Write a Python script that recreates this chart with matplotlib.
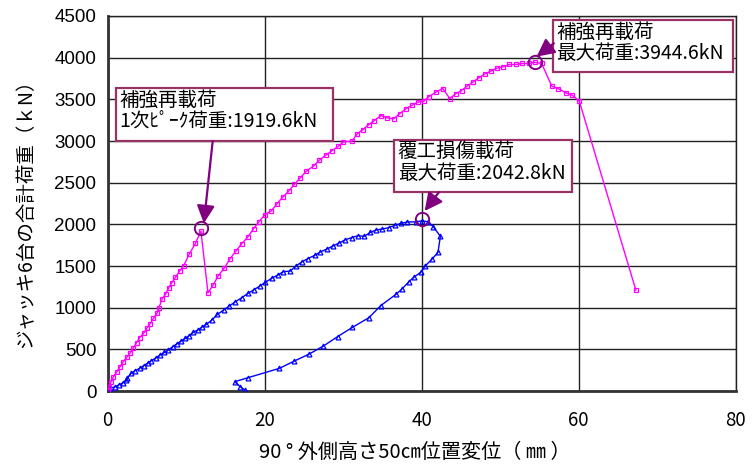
import matplotlib
matplotlib.use("Agg")
import matplotlib.pyplot as plt
from matplotlib.patches import Rectangle

# ---------------- data ----------------
mag_x = [0.0, 0.05, 0.25, 0.45, 0.75, 1.2, 1.6, 2.0, 2.45, 2.9, 3.3, 3.7, 4.1, 4.6,
         5.0, 5.4, 5.85, 6.3, 6.55, 6.95, 7.4, 7.8, 8.2, 8.65, 9.2, 9.7, 10.4, 11.2,
         11.9, 12.8, 13.5, 14.1, 14.9, 15.6, 16.35, 17.1, 17.9, 18.6, 19.3, 20.05,
         20.85, 21.6, 22.3, 23.1, 23.8, 24.55, 25.3, 26.25, 27.0, 27.8, 28.6, 29.4,
         30.05, 31.15, 31.8, 32.55, 33.3, 34.0, 34.85, 35.6, 36.45, 37.2, 38.0, 38.8,
         39.5, 40.3, 40.9, 41.9, 42.7, 43.6, 44.4, 45.1, 45.8, 46.6, 47.3, 48.1, 48.8,
         49.6, 50.4, 51.2, 52.0, 52.8, 53.7, 54.4, 55.3, 56.6, 57.4, 58.4, 59.2, 60.1,
         67.3]
mag_y = [0, 12, 52, 112, 172, 232, 292, 352, 404, 460, 520, 580, 640, 692,
         752, 804, 872, 932, 1000, 1104, 1164, 1240, 1300, 1364, 1440, 1504, 1640, 1772,
         1919.6, 1176, 1278, 1382, 1478, 1586, 1679, 1767, 1851, 1947, 2032, 2116,
         2160, 2248, 2324, 2400, 2480, 2556, 2636, 2700, 2772, 2828, 2884, 2936,
         2990, 2998, 3086, 3138, 3198, 3246, 3306, 3278, 3266, 3326, 3386, 3430,
         3466, 3478, 3530, 3590, 3630, 3510, 3570, 3606, 3658, 3710, 3758, 3806, 3838,
         3874, 3890, 3918, 3918, 3930, 3930, 3944.6, 3930, 3658, 3630, 3578, 3550, 3478,
         1212]

blue_x = [0.0, 0.3, 1.0, 1.4, 2.0, 2.4, 2.5, 3.0, 3.5, 4.1, 4.6, 5.1, 5.6, 6.2, 6.7,
          7.25, 7.75, 8.3, 8.8, 9.4, 9.9, 10.4, 10.9, 11.5, 12.0, 12.6, 13.3, 14.0,
          14.8, 15.5, 16.3, 17.1, 17.9, 18.6, 19.4, 20.1, 20.9, 21.7, 22.4, 23.3, 24.0,
          24.8, 25.5, 26.4, 27.1, 27.95, 28.7, 29.5, 30.3, 31.1, 31.9, 32.7, 33.5, 34.2,
          35.0, 35.8, 36.6, 37.4, 38.2, 39.3, 40.1, 40.8, 41.5, 42.4, 42.1, 41.35, 40.5,
          39.9, 39.0, 38.4, 37.5, 36.8, 34.8, 33.3, 31.2, 29.3, 27.5, 25.7, 23.8, 21.9,
          17.9, 16.2, 16.9, 17.5]
blue_y = [0, 32, 52, 72, 100, 132, 152, 212, 244, 272, 304, 332, 364, 400, 432,
          464, 492, 532, 564, 600, 632, 664, 704, 732, 764, 800, 852, 920,
          972, 1020, 1072, 1120, 1172, 1212, 1260, 1304, 1352, 1392, 1432, 1440, 1500,
          1552, 1588, 1628, 1668, 1704, 1740, 1776, 1816, 1840, 1864, 1856, 1904, 1932,
          1944, 1960, 1988, 2012, 2028, 2030, 2042.8, 2030, 1972, 1856, 1664, 1584, 1504,
          1424, 1364, 1312, 1224, 1164, 1024, 880, 764, 652, 540, 444, 360, 272,
          160, 112, 52, 12]

x_ticks = [0, 20, 40, 60, 80]
y_ticks = [0, 500, 1000, 1500, 2000, 2500, 3000, 3500, 4000, 4500]

ann_texts = ["補強再載荷\n1次ﾋﾟｰｸ荷重:1919.6kN",
             "覆工損傷載荷\n最大荷重:2042.8kN",
             "補強再載荷\n最大荷重:3944.6kN"]

xlabel = "90 ° 外側高さ50㎝位置変位（ ㎜ ）"
ylabel = "ジャッキ6台の合計荷重（ｋN）"

# ---------------- figure ----------------
CJK = ["Noto Sans CJK JP", "DejaVu Sans"]
fig = plt.figure(figsize=(7.55, 4.65), dpi=100)
ax = fig.add_axes([0.1424, 0.1591, 0.8318, 0.8065])

ax.set_xlim(0, 80)
ax.set_ylim(0, 4500)
ax.set_xticks(x_ticks)
ax.set_yticks(y_ticks)
ax.grid(True, color="#222222", linewidth=1.0)
ax.set_axisbelow(True)
ax.tick_params(axis="y", length=0, pad=8)
ax.tick_params(axis="x", length=0, pad=14)
for lab in ax.get_yticklabels():
    lab.set_fontfamily("Liberation Sans")
    lab.set_fontsize(13.5)
for lab in ax.get_xticklabels():
    lab.set_fontfamily(CJK)
    lab.set_fontsize(13.5)

for s in ["left", "bottom"]:
    ax.spines[s].set_linewidth(2.0)
    ax.spines[s].set_color("#333333")
for s in ["top", "right"]:
    ax.spines[s].set_linewidth(1.0)
    ax.spines[s].set_color("#222222")

ax.plot(blue_x, blue_y, color="#0000FF", lw=1.0, marker="^", ms=3.5,
        mfc="none", mec="#0000FF", mew=0.9, zorder=3)
ax.plot(mag_x, mag_y, color="#FF00FF", lw=1.0, marker="s", ms=3.3,
        mfc="none", mec="#FF00FF", mew=0.9, zorder=4)

ax.set_xlabel(xlabel, fontfamily=CJK, fontsize=14.5)
ax.set_ylabel(ylabel, fontfamily=CJK, fontsize=14)
ax.xaxis.set_label_coords(0.49, -0.165)
ax.xaxis.label.set_va("center")
ax.yaxis.set_label_coords(-0.131, 0.485)
ax.yaxis.label.set_va("center")

# ---------------- annotations ----------------
purple = "#800080"
edge = "#993366"
boxes = [  # (x0, x1, y_bottom, y_top, text_x, line1_y, line2_y)
    (1.05, 28.67, 3000, 3632, 1.5, 3484, 3224),
    (36.45, 59.2, 2392, 3012, 36.96, 2872, 2612),
    (56.73, 79.7, 3832, 4452, 57.2, 4300, 4052),
]
arrows = [((13.4, 3000), (12.27, 2012)),
          ((42.2, 2384), (40.4, 2160)),
          ((56.86, 4172), (54.66, 4012))]
circles = [(mag_x[mag_y.index(1919.6)], 1919.6 + 40),
           (blue_x[blue_y.index(2042.8)], 2042.8 + 25),
           (mag_x[mag_y.index(3944.6)], 3944.6)]

for (x0, x1, yb, yt, tx, l1, l2), txt, (st, tip), (cx, cy) in zip(boxes, ann_texts, arrows, circles):
    ax.add_patch(Rectangle((x0, yb), x1 - x0, yt - yb, facecolor="white",
                           edgecolor=edge, lw=1.6, zorder=6, clip_on=False))
    line1, line2 = txt.split("\n")
    ax.text(tx, l1, line1, fontfamily=CJK, fontsize=14, ha="left", va="center", zorder=7)
    ax.text(tx, l2, line2, fontfamily=CJK, fontsize=14, ha="left", va="center", zorder=7)
    ax.annotate("", xy=tip, xytext=st,
                arrowprops=dict(arrowstyle="-|>,head_length=0.9,head_width=0.45",
                                color=purple, lw=1.6, shrinkA=0, shrinkB=0,
                                mutation_scale=12), zorder=8)
    ax.plot([cx], [cy], marker="o", ms=9.6, mfc="none", mec=purple, mew=1.4, zorder=8)

fig.savefig("out.png", dpi=100)
